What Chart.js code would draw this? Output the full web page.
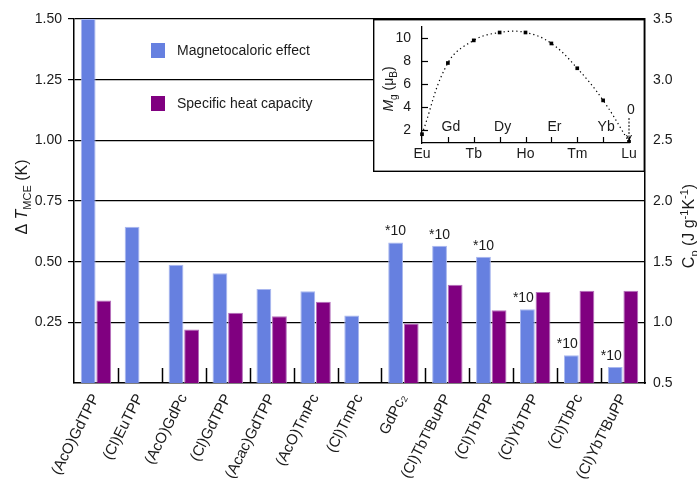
<!DOCTYPE html>
<html>
<head>
<meta charset="utf-8">
<script src="https://cdn.jsdelivr.net/npm/chart.js"></script>
<style>
  html, body { margin: 0; padding: 0; background: #fff; }
  #wrap { position: relative; width: 697px; height: 480px; }
  #mainChart { position: absolute; left: 0; top: 0; }
  #insetChart { position: absolute; left: 373px; top: 19px; }
</style>
</head>
<body>
<div id="wrap">
  <canvas id="mainChart" width="697" height="480"></canvas>
  <canvas id="insetChart" width="272" height="153"></canvas>
</div>
<script>
    // main bar chart data
    var categories = ['(AcO)GdTPP', '(Cl)EuTPP', '(AcO)GdPc', '(Cl)GdTPP', '(Acac)GdTPP', '(AcO)TmPc',
        '(Cl)TmPc', 'GdPc\u2082', '(Cl)TbT\u1D57BuPP', '(Cl)TbTPP', '(Cl)YbTPP', '(Cl)TbPc', '(Cl)YbT\u1D57BuPP'];
    var mceValues = [1.50, 0.644, 0.487, 0.452, 0.387, 0.378, 0.278, 0.579, 0.566, 0.520, 0.304, 0.114, 0.066];
    var cpValues = [1.18, null, 0.94, 1.08, 1.05, 1.17, null, 0.99, 1.31, 1.10, 1.25, 1.26, 1.26];
    var mceNotes = ['', '', '', '', '', '', '', '*10', '*10', '*10', '*10', '*10', '*10'];
    var leftTicks = [0.25, 0.50, 0.75, 1.00, 1.25, 1.50];
    var rightTicks = [0.5, 1.0, 1.5, 2.0, 2.5, 3.0, 3.5];

    // inset data
    var lanthanides = ['Eu', 'Gd', 'Tb', 'Dy', 'Ho', 'Er', 'Tm', 'Yb', 'Lu'];
    var mgValues = [1.62, 7.85, 9.83, 10.52, 10.52, 9.56, 7.39, 4.58, 0.95];
    var insetTicks = [2, 4, 6, 8, 10];

    var FONT = '"Liberation Sans", Arial, sans-serif';
    var TEXT = '#1a1a1a';
    var BLUE = '#6680e0';
    var PURPLE = '#800080';

    // text with sub/superscripts, centred on (cx, cy)
    function drawRich(ctx, parts, cx, cy, angle, size) {
        ctx.save();
        ctx.translate(cx, cy);
        ctx.rotate(angle);
        var fontFor = function (p) {
            var s = (p.sub || p.sup) ? Math.round(size * 0.7) : size;
            return (p.italic ? 'italic ' : '') + s + 'px ' + FONT;
        };
        var total = 0;
        parts.forEach(function (p) {
            ctx.font = fontFor(p);
            p.w = ctx.measureText(p.t).width;
            total += p.w;
        });
        var x = -total / 2;
        ctx.fillStyle = TEXT;
        ctx.textBaseline = 'alphabetic';
        ctx.textAlign = 'left';
        parts.forEach(function (p) {
            ctx.font = fontFor(p);
            var dy = p.sub ? size * 0.25 : (p.sup ? -size * 0.38 : 0);
            ctx.fillText(p.t, x, size * 0.36 + dy);
            x += p.w;
        });
        ctx.restore();
    }

    var mainDecor = {
        id: 'mainDecor',
        afterDraw: function (chart) {
            var ctx = chart.ctx;
            var xs = chart.scales.x;
            var area = chart.chartArea;

            // short inward ticks between the groups
            ctx.save();
            ctx.strokeStyle = '#000';
            ctx.lineWidth = 1.5;
            for (var i = 1; i < categories.length; i++) {
                var bx = Math.round((xs.getPixelForValue(i - 1) + xs.getPixelForValue(i)) / 2) + 0.5;
                ctx.beginPath();
                ctx.moveTo(bx, area.bottom);
                ctx.lineTo(bx, area.bottom - 15);
                ctx.stroke();
            }
            ctx.restore();

            // *10 notes over the blue bars
            var meta = chart.getDatasetMeta(0);
            ctx.save();
            ctx.font = '14px ' + FONT;
            ctx.fillStyle = TEXT;
            ctx.textAlign = 'center';
            ctx.textBaseline = 'bottom';
            mceNotes.forEach(function (n, i) {
                if (!n) return;
                var bar = meta.data[i];
                var shift = i >= 10 ? -4 : 0;
                ctx.fillText(n, bar.x + shift, bar.y - 4);
            });
            ctx.restore();

            // legend
            var items = chart.data.datasets;
            var legendY = [43, 96];
            ctx.save();
            ctx.font = '14px ' + FONT;
            ctx.textBaseline = 'middle';
            items.forEach(function (ds, k) {
                ctx.fillStyle = ds.backgroundColor;
                ctx.fillRect(151, legendY[k], 14, 15);
                ctx.fillStyle = TEXT;
                ctx.fillText(ds.label, 177, legendY[k] + 8);
            });
            ctx.restore();

            // axis titles
            drawRich(ctx, [{t: '\u0394 '}, {t: 'T', italic: true}, {t: 'MCE', sub: true}, {t: ' (K)'}],
                21, 197, -Math.PI / 2, 16);
            drawRich(ctx, [{t: 'C'}, {t: 'p', sub: true}, {t: ' (J g'}, {t: '-1', sup: true}, {t: 'K'}, {t: '-1', sup: true}, {t: ')'}],
                688, 226, -Math.PI / 2, 16);
        }
    };

    new Chart(document.getElementById('mainChart'), {
        type: 'bar',
        data: {
            labels: categories,
            datasets: [{
                label: 'Magnetocaloric effect',
                data: mceValues,
                yAxisID: 'y',
                backgroundColor: BLUE,
                borderColor: '#a9b7ef',
                borderWidth: 1
            }, {
                label: 'Specific heat capacity',
                data: cpValues,
                yAxisID: 'y2',
                backgroundColor: PURPLE,
                borderColor: '#b46fbb',
                borderWidth: 1
            }]
        },
        options: {
            responsive: false,
            animation: false,
            categoryPercentage: 0.71,
            barPercentage: 0.95,
            layout: { padding: { top: 19 } },
            plugins: { legend: { display: false }, tooltip: { enabled: false } },
            scales: {
                x: {
                    grid: { display: false, drawTicks: false },
                    border: { color: '#000', width: 1.5 },
                    ticks: { autoSkip: false, minRotation: 63, maxRotation: 63, padding: 8,
                        color: TEXT, font: { family: FONT, size: 15 } },
                    afterFit: function (s) { s.height = 97; }
                },
                y: {
                    position: 'left',
                    min: 0, max: 1.5,
                    z: 1,
                    afterBuildTicks: function (s) { s.ticks = leftTicks.map(function (v) { return { value: v }; }); },
                    ticks: { padding: 6, color: TEXT, font: { family: FONT, size: 14 },
                        callback: function (v) { return v.toFixed(2); } },
                    grid: { color: '#000', lineWidth: 1.2, tickLength: 6 },
                    border: { color: '#000', width: 1.5 },
                    afterFit: function (s) { s.width = 74; }
                },
                y2: {
                    position: 'right',
                    min: 0.5, max: 3.5,
                    afterBuildTicks: function (s) { s.ticks = rightTicks.map(function (v) { return { value: v }; }); },
                    ticks: { padding: 8, color: TEXT, font: { family: FONT, size: 14 },
                        callback: function (v) { return v.toFixed(1); } },
                    grid: { drawOnChartArea: false, drawTicks: false },
                    border: { color: '#000', width: 1.5 },
                    afterFit: function (s) { s.width = 52; }
                }
            }
        },
        plugins: [mainDecor]
    });

    var insetDecor = {
        id: 'insetDecor',
        beforeDraw: function (chart) {
            var ctx = chart.ctx;
            ctx.save();
            ctx.fillStyle = '#fff';
            ctx.fillRect(0, 0, chart.width, chart.height);
            ctx.restore();
        },
        afterDraw: function (chart) {
            var ctx = chart.ctx;
            var xs = chart.scales.x, ys = chart.scales.y;
            var area = chart.chartArea;
            ctx.save();
            ctx.strokeStyle = '#000';
            ctx.lineWidth = 1.2;
            // inward ticks
            for (var i = 1; i < lanthanides.length; i++) {
                var px = Math.round(xs.getPixelForValue(i)) + 0.5;
                ctx.beginPath();
                ctx.moveTo(px, area.bottom);
                ctx.lineTo(px, area.bottom - 6);
                ctx.stroke();
            }
            insetTicks.forEach(function (v) {
                var py = Math.round(ys.getPixelForValue(v)) + 0.5;
                ctx.beginPath();
                ctx.moveTo(area.left, py);
                ctx.lineTo(area.left + 6, py);
                ctx.stroke();
            });
            // frame
            ctx.lineWidth = 1.4;
            ctx.strokeRect(0.7, 0.7, chart.width - 1.4, chart.height - 1.4);

            // labels inside the plot for odd elements
            ctx.font = '14px ' + FONT;
            ctx.fillStyle = TEXT;
            ctx.textAlign = 'center';
            ctx.textBaseline = 'middle';
            for (var j = 1; j < lanthanides.length; j += 2) {
                ctx.fillText(lanthanides[j], xs.getPixelForValue(j) + 3, area.bottom - 16);
            }

            // Lu is 0: label and arrow
            var lx = xs.getPixelForValue(lanthanides.length - 1);
            ctx.fillText('0', lx + 2, area.bottom - 33);
            ctx.setLineDash([2, 1.5]);
            ctx.lineWidth = 1;
            ctx.beginPath();
            ctx.moveTo(lx, area.bottom - 25);
            ctx.lineTo(lx, area.bottom - 4);
            ctx.stroke();
            ctx.setLineDash([]);
            ctx.beginPath();
            ctx.moveTo(lx - 2.5, area.bottom - 8);
            ctx.lineTo(lx, area.bottom - 3);
            ctx.lineTo(lx + 2.5, area.bottom - 8);
            ctx.stroke();
            ctx.restore();

            drawRich(ctx, [{t: 'M', italic: true}, {t: 'g', sub: true}, {t: ' (\u03bc'}, {t: 'B', sub: true}, {t: ')'}],
                15, 70, -Math.PI / 2, 14);
        }
    };

    new Chart(document.getElementById('insetChart'), {
        type: 'line',
        data: {
            labels: lanthanides,
            datasets: [{
                data: mgValues,
                borderColor: '#000',
                borderWidth: 1.2,
                borderDash: [1.3, 3],
                tension: 0.4,
                fill: false,
                pointStyle: 'rect',
                pointRadius: 2.6,
                pointBackgroundColor: '#000',
                pointBorderWidth: 0
            }]
        },
        options: {
            responsive: false,
            animation: false,
            layout: { padding: { top: 0, right: 16 } },
            plugins: { legend: { display: false }, tooltip: { enabled: false } },
            scales: {
                x: {
                    offset: false,
                    grid: { display: false, drawTicks: false },
                    border: { color: '#000', width: 1.3 },
                    ticks: { autoSkip: false, maxRotation: 0, padding: 3, color: TEXT, font: { family: FONT, size: 14 },
                        callback: function (v, i) { return i % 2 === 0 ? lanthanides[i] : ''; } },
                    afterFit: function (s) { s.height = 29; }
                },
                y: {
                    min: 0.85, max: 11,
                    afterBuildTicks: function (s) { s.ticks = insetTicks.map(function (v) { return { value: v }; }); },
                    grid: { display: false, drawTicks: false },
                    border: { color: '#000', width: 1.3 },
                    ticks: { padding: 11, color: TEXT, font: { family: FONT, size: 14 } },
                    afterFit: function (s) { s.width = 49; s.paddingTop = 8; s.paddingBottom = 0; }
                }
            }
        },
        plugins: [insetDecor]
    });
</script>
</body>
</html>
